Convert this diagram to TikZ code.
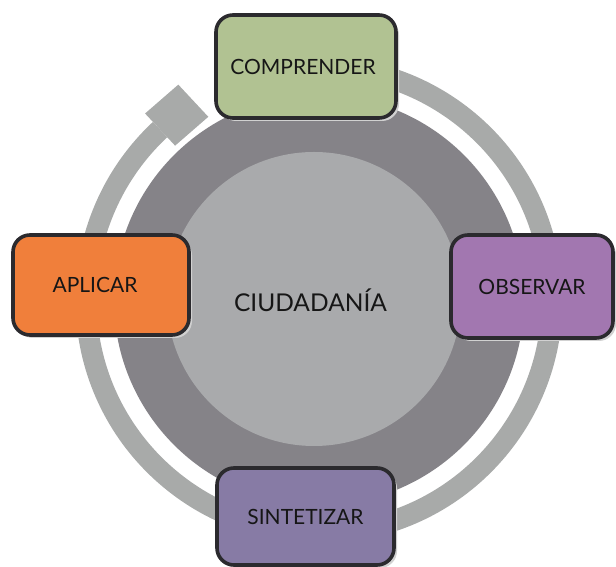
\documentclass[tikz,border=0pt]{standalone}
\usepackage{fontspec}
\setmainfont{Lato}
\usetikzlibrary{calc,shadows}
\definecolor{ringgray}{HTML}{A8AAA9}
\definecolor{darkdisc}{HTML}{858388}
\definecolor{innerdisc}{HTML}{A9AAAC}
\definecolor{boxline}{HTML}{2B2A2E}
\definecolor{cgreen}{HTML}{B1C292}
\definecolor{corange}{HTML}{F07F3B}
\definecolor{cpurple}{HTML}{A277B0}
\definecolor{cviolet}{HTML}{877BA5}
\definecolor{txt}{HTML}{161616}
\tikzset{
  stagebox/.style={draw=boxline, line width=3.6pt, rounded corners=17pt,
    inner sep=0pt, text=txt, font=\fontsize{21}{25}\selectfont,
    drop shadow={shadow xshift=3pt, shadow yshift=-3pt, fill=black!18, opacity=1}},
  ringline/.style={draw=ringgray, line width=21pt},
  centertext/.style={text=txt, font=\fontsize{24.5}{29}\selectfont}
}
\begin{document}
\begin{tikzpicture}[x=1pt,y=1pt]
\useasboundingbox (0,0) rectangle (616,567);
\coordinate (C) at (319,267);
\coordinate (Ci) at (314,268);
% outer arrow ring
\draw[ringline] ($(C)+(95:233)$) arc[start angle=95, end angle=-227, radius=233];
\coordinate (E) at ($(C)+(133:233)$);
\fill[ringgray] ($(E)+(133:22)$) -- ($(E)+(313:22)$) -- ($(E)+(313:22)+(41:44)$) -- ($(E)+(133:22)+(41:44)$) -- cycle;
% discs
\fill[darkdisc] (C) circle[radius=205];
\fill[innerdisc] (Ci) circle[radius=147];
\node[centertext] (ciud) at (310.5,267) {CIUDADANÍA};
% stage boxes
\node[stagebox, fill=cgreen, minimum width=180pt, minimum height=103pt] (comp) at (306,500.5) {\hspace*{-6pt}COMPRENDER};
\node[stagebox, fill=corange, minimum width=176pt, minimum height=100pt] (apl) at (101,282) {\hspace*{-12pt}APLICAR};
\node[stagebox, fill=cpurple, minimum width=162pt, minimum height=103pt] (obs) at (532,280.5) {OBSERVAR};
\node[stagebox, fill=cviolet, minimum width=177pt, minimum height=97pt] (sint) at (305.5,50.5) {\raisebox{-5pt}{SINTETIZAR}};
\end{tikzpicture}
\end{document}
